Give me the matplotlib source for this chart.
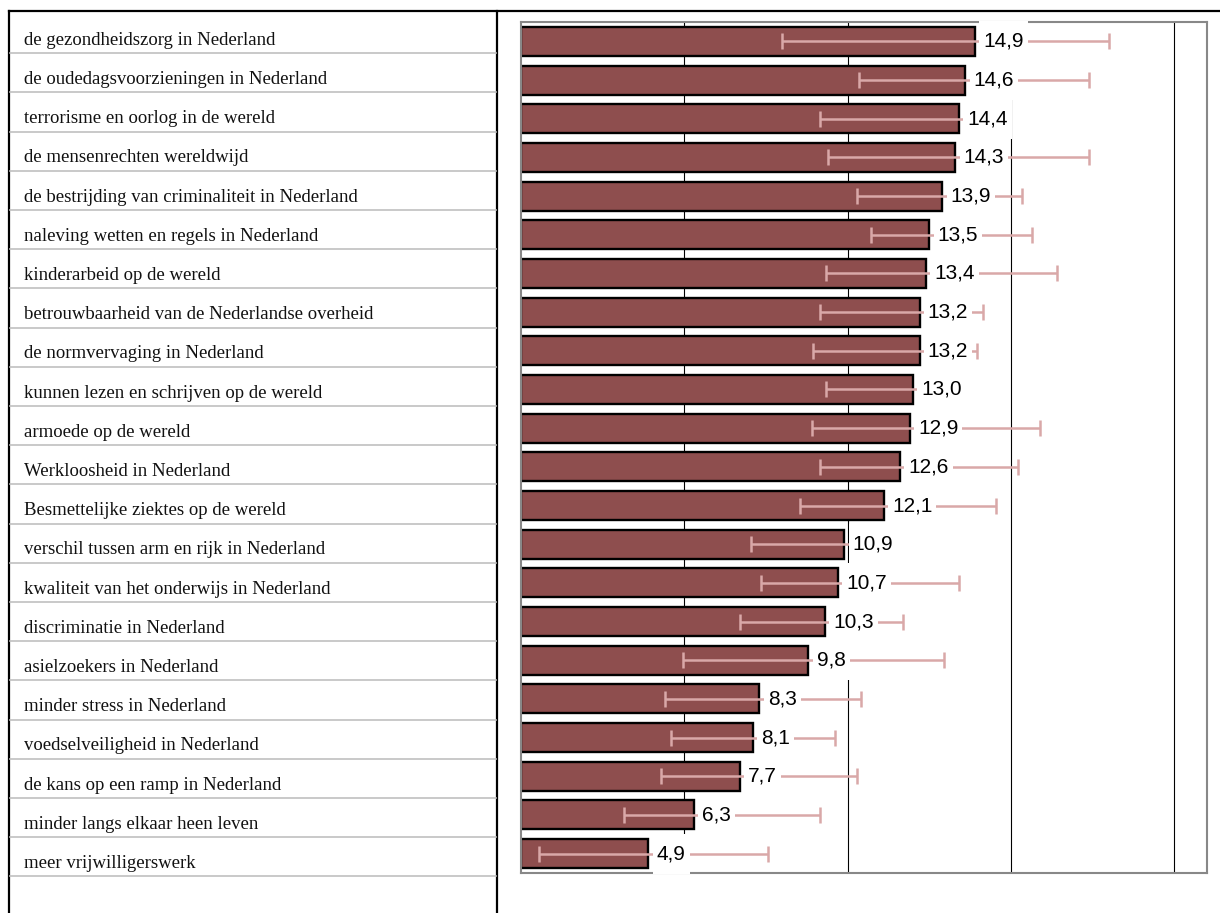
import matplotlib
matplotlib.use("Agg")
import matplotlib.pyplot as plt
from matplotlib.patches import Rectangle
from matplotlib.lines import Line2D

labels = [
    "de gezondheidszorg in Nederland",
    "de oudedagsvoorzieningen in Nederland",
    "terrorisme en oorlog in de wereld",
    "de mensenrechten wereldwijd",
    "de bestrijding van criminaliteit in Nederland",
    "naleving wetten en regels in Nederland",
    "kinderarbeid op de wereld",
    "betrouwbaarheid van de Nederlandse overheid",
    "de normvervaging in Nederland",
    "kunnen lezen en schrijven op de wereld",
    "armoede op de wereld",
    "Werkloosheid in Nederland",
    "Besmettelijke ziektes op de wereld",
    "verschil tussen arm en rijk in Nederland",
    "kwaliteit van het onderwijs in Nederland",
    "discriminatie in Nederland",
    "asielzoekers in Nederland",
    "minder stress in Nederland",
    "voedselveiligheid in Nederland",
    "de kans op een ramp in Nederland",
    "minder langs elkaar heen leven",
    "meer vrijwilligerswerk",
]
values = [14.9, 14.6, 14.4, 14.3, 13.9, 13.5, 13.4, 13.2, 13.2, 13.0, 12.9,
          12.6, 12.1, 10.9, 10.7, 10.3, 9.8, 8.3, 8.1, 7.7, 6.3, 4.9]
err_low = [9.0, 11.35, 10.15, 10.4, 11.3, 11.7, 10.35, 10.15, 9.95, 10.35, 9.9,
           10.15, 9.55, 8.05, 8.35, 7.7, 5.95, 5.4, 5.6, 5.3, 4.15, 1.55]
err_high = [19.0, 18.4, 15.4, 18.4, 16.35, 16.65, 17.4, 15.15, 14.95, 14.0, 16.9,
            16.2, 15.55, 11.1, 14.4, 12.7, 13.95, 11.4, 10.6, 11.3, 10.15, 8.55]
grid_ticks = [6, 11, 16, 21]

W, H = 1220, 913
fig = plt.figure(figsize=(W / 100, H / 100), dpi=100)

# table background in pixel coordinates
bg = fig.add_axes([0, 0, 1, 1], zorder=0)
bg.set_xlim(0, W)
bg.set_ylim(H, 0)
bg.axis("off")
bg.add_line(Line2D([9, W], [11, 11], color="black", lw=1.6))
bg.add_line(Line2D([9, 9], [11, H], color="black", lw=1.6))
bg.add_line(Line2D([497, 497], [11, H], color="black", lw=1.6))
for i, lab in enumerate(labels):
    yline = 53.3 + 39.2 * i
    bg.add_line(Line2D([10, 496], [yline, yline], color="#c0c0c0", lw=1.2))
    bg.text(24, yline - 13, lab, family="Liberation Serif", fontsize=13.5,
            va="center", ha="left", color="#111111")

# bar chart
ax = fig.add_axes([521 / W, 1 - 873 / H, (1207 - 521) / W, (873 - 22) / H], zorder=1)
ax.patch.set_alpha(0)
y = list(range(len(values)))
ax.barh(y, [v - 1 for v in values], left=1, height=0.75, color="#8e4e4e",
        edgecolor="black", linewidth=1.7, zorder=2)
xerr = [[v - lo for v, lo in zip(values, err_low)],
        [hi - v for v, hi in zip(values, err_high)]]
ax.errorbar(values, y, xerr=xerr, fmt="none", ecolor="#d9a8a8", elinewidth=1.8,
            capsize=6, capthick=1.8, zorder=3)
ax.set_xlim(1, 22)
ax.set_ylim(len(values) - 0.5, -0.5)
for g in grid_ticks:
    ax.axvline(g, color="black", lw=0.8, zorder=1)
ax.set_xticks([])
ax.set_yticks([])
for s in ax.spines.values():
    s.set_color("#888888")
    s.set_linewidth(1.5)

texts = []
for v, yy in zip(values, y):
    t = ax.annotate(f"{v:.1f}".replace(".", ","), (v, yy), xytext=(6, 0),
                    textcoords="offset points", va="center", ha="left",
                    fontsize=15, family="Liberation Sans", zorder=6,
                    annotation_clip=False)
    texts.append(t)

# white label boxes spanning the row height
fig.canvas.draw()
r = fig.canvas.get_renderer()
inv = ax.transData.inverted()
dx = 4 / 32.67
for t, yy in zip(texts, y):
    bb = t.get_window_extent(r).transformed(inv)
    ax.add_patch(Rectangle((bb.x0 - dx, yy - 0.52), bb.width + 2 * dx, 1.04,
                           facecolor="white", edgecolor="none", zorder=5,
                           clip_on=False))

fig.savefig("out.png", dpi=100)
